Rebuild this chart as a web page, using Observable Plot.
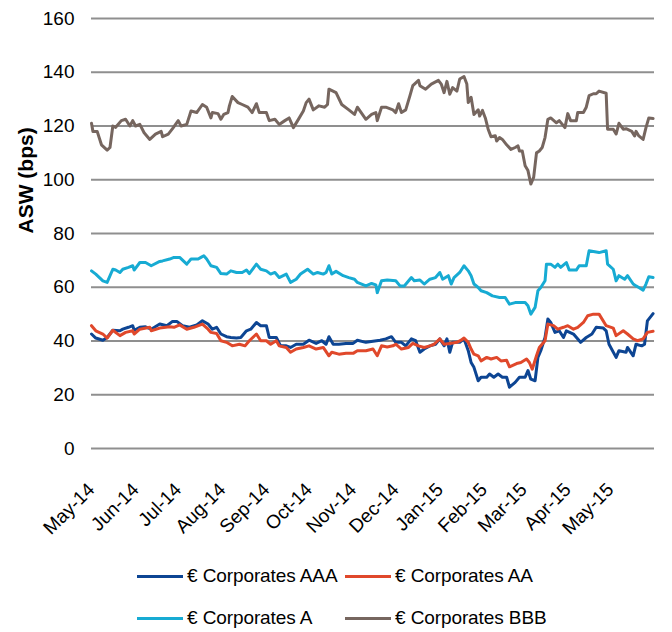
<!DOCTYPE html>
<html>
<head>
<meta charset="utf-8">
<script src="https://cdn.jsdelivr.net/npm/d3@7"></script>
<script src="https://cdn.jsdelivr.net/npm/@observablehq/plot@0.6"></script>
<style>
  html, body { margin: 0; padding: 0; background: #fff; overflow: hidden; }
  body { width: 672px; height: 632px; font-family: "Liberation Sans", Arial, sans-serif; }
  #legend { display: grid; grid-template-columns: 208px auto; padding-left: 137px; margin-top: 10px; }
  .item { height: 42px; display: flex; align-items: center; font-size: 19px; color: #000; letter-spacing: -0.1px; white-space: nowrap; }
  .sw { display: inline-block; width: 46px; height: 3px; margin-right: 4px; }
</style>
</head>
<body>
<div id="chart"></div>
<div id="legend"></div>
<script>
// ---- data ----
const seriesNames = ["€ Corporates AAA", "€ Corporates AA", "€ Corporates A", "€ Corporates BBB"];
const seriesColors = ["#0d4593", "#e0482b", "#17abd3", "#76665f"];
const yTicks = [0, 20, 40, 60, 80, 100, 120, 140, 160];
const monthTicks = ["2014-05-01","2014-06-01","2014-07-01","2014-08-01","2014-09-01","2014-10-01","2014-11-01","2014-12-01","2015-01-01","2015-02-01","2015-03-01","2015-04-01","2015-05-01"];
const xDomain = ["2014-05-01", "2015-06-01"];

const aaa = [["2014-05-01",42.6],["2014-05-04",41.1],["2014-05-09",40.3],["2014-05-12",41.3],["2014-05-16",44],["2014-05-21",43.8],["2014-05-23",44.4],["2014-05-27",45.1],["2014-05-30",45.7],["2014-05-31",44],["2014-06-04",45.1],["2014-06-08",45.3],["2014-06-12",44.4],["2014-06-18",46.3],["2014-06-23",45.7],["2014-06-27",47.3],["2014-06-30",47.3],["2014-07-04",45.7],["2014-07-09",45.1],["2014-07-14",46],["2014-07-18",47.5],["2014-07-22",46.3],["2014-07-25",44.4],["2014-07-28",45.1],["2014-07-31",42.6],["2014-08-04",41.6],["2014-08-07",41.3],["2014-08-11",41.1],["2014-08-14",41.3],["2014-08-18",43.8],["2014-08-21",44.4],["2014-08-25",46.9],["2014-08-28",45.7],["2014-09-01",45.7],["2014-09-03",41.3],["2014-09-08",41.3],["2014-09-11",38.2],["2014-09-15",38.2],["2014-09-18",37.6],["2014-09-22",38.8],["2014-09-27",38.8],["2014-10-01",40.3],["2014-10-06",39.1],["2014-10-10",40.1],["2014-10-13",38.8],["2014-10-15",41.6],["2014-10-18",38.8],["2014-10-22",38.8],["2014-10-27",39.1],["2014-11-01",39.1],["2014-11-04",40.3],["2014-11-10",39.5],["2014-11-15",39.9],["2014-11-20",40.3],["2014-11-24",40.8],["2014-11-28",41.6],["2014-12-01",39.5],["2014-12-05",39.5],["2014-12-08",38.2],["2014-12-12",40.8],["2014-12-15",40.1],["2014-12-18",35.8],["2014-12-21",37],["2014-12-25",38.2],["2014-12-29",38.8],["2015-01-01",40.8],["2015-01-04",38.2],["2015-01-06",40.8],["2015-01-08",35.8],["2015-01-10",39.5],["2015-01-15",39.5],["2015-01-18",40.8],["2015-01-21",36.4],["2015-01-23",32],["2015-01-25",30.2],["2015-01-28",25.2],["2015-01-30",26.5],["2015-02-03",26.5],["2015-02-05",27.7],["2015-02-08",26.5],["2015-02-11",27.7],["2015-02-14",26.5],["2015-02-17",26.5],["2015-02-19",22.8],["2015-02-23",24.6],["2015-02-26",26.5],["2015-03-02",26.5],["2015-03-04",29],["2015-03-06",25.8],["2015-03-09",25.2],["2015-03-11",33.9],["2015-03-13",36.4],["2015-03-16",41.3],["2015-03-18",48.2],["2015-03-20",46.9],["2015-03-23",43.2],["2015-03-26",43.8],["2015-03-29",41.3],["2015-03-31",43.8],["2015-04-05",42.6],["2015-04-10",39.5],["2015-04-14",41.3],["2015-04-18",42.6],["2015-04-21",45.1],["2015-04-26",44.8],["2015-04-28",43.8],["2015-04-30",38.8],["2015-05-05",33.9],["2015-05-07",36.4],["2015-05-12",35.8],["2015-05-13",37.6],["2015-05-17",34.5],["2015-05-19",38.8],["2015-05-23",38.2],["2015-05-25",38.8],["2015-05-27",47.5],["2015-05-31",50.2]];

const aa = [["2014-05-01",45.7],["2014-05-04",43.8],["2014-05-09",42.6],["2014-05-12",41.1],["2014-05-16",44],["2014-05-21",42],["2014-05-25",43.2],["2014-05-30",43.8],["2014-05-31",42.6],["2014-06-04",44.4],["2014-06-11",45.1],["2014-06-12",43.8],["2014-06-18",44.8],["2014-06-25",45.3],["2014-06-28",45.1],["2014-07-02",46],["2014-07-07",44.4],["2014-07-12",45.1],["2014-07-18",46.3],["2014-07-22",44.4],["2014-07-24",43.2],["2014-07-28",42.8],["2014-07-31",40.1],["2014-08-04",39.5],["2014-08-08",38.2],["2014-08-13",38.8],["2014-08-17",38.2],["2014-08-20",40.1],["2014-08-25",42.6],["2014-08-28",40.1],["2014-09-01",40.1],["2014-09-04",38.8],["2014-09-08",40.1],["2014-09-10",38.2],["2014-09-15",37.6],["2014-09-18",35.8],["2014-09-22",37],["2014-09-27",37.6],["2014-10-01",38.2],["2014-10-06",37],["2014-10-11",37.6],["2014-10-15",34.5],["2014-10-17",35.8],["2014-10-22",35.1],["2014-10-27",35.4],["2014-11-01",35.4],["2014-11-04",36.4],["2014-11-10",36.4],["2014-11-15",37],["2014-11-18",34.5],["2014-11-21",38.2],["2014-11-25",37.8],["2014-11-29",38.2],["2014-12-01",38.8],["2014-12-05",37],["2014-12-10",37.6],["2014-12-13",39.1],["2014-12-17",38.2],["2014-12-21",37.6],["2014-12-25",38.2],["2014-12-28",38.8],["2015-01-01",40.8],["2015-01-04",38.8],["2015-01-08",39.1],["2015-01-13",39.5],["2015-01-16",40.3],["2015-01-18",41.1],["2015-01-21",39.5],["2015-01-23",37],["2015-01-25",35.1],["2015-01-28",34.5],["2015-01-30",32.6],["2015-02-03",33.9],["2015-02-06",33.3],["2015-02-10",33.9],["2015-02-13",32.6],["2015-02-17",32.8],["2015-02-19",30.4],["2015-02-24",31.6],["2015-02-27",32],["2015-03-03",33.3],["2015-03-05",32],["2015-03-07",29.5],["2015-03-10",34.5],["2015-03-12",37.6],["2015-03-16",40.1],["2015-03-18",46.3],["2015-03-22",45.7],["2015-03-25",44.4],["2015-03-29",45.1],["2015-04-01",45.7],["2015-04-05",44.4],["2015-04-08",45.1],["2015-04-12",46.9],["2015-04-15",49.4],["2015-04-19",50],["2015-04-23",50],["2015-04-28",45.7],["2015-05-03",44.8],["2015-05-05",42],["2015-05-10",43.8],["2015-05-13",42.6],["2015-05-17",40.8],["2015-05-20",40.1],["2015-05-24",40.8],["2015-05-27",43.2],["2015-05-31",43.6]];

const a = [["2014-05-01",66.1],["2014-05-04",64.9],["2014-05-09",62.4],["2014-05-12",61.8],["2014-05-16",66.7],["2014-05-18",66.4],["2014-05-21",65.5],["2014-05-23",66.7],["2014-05-27",67.4],["2014-05-30",68],["2014-05-31",66.4],["2014-06-04",69.2],["2014-06-08",69.2],["2014-06-12",68],["2014-06-18",69.6],["2014-06-20",69.8],["2014-06-25",70.5],["2014-06-28",71.1],["2014-07-02",71.1],["2014-07-07",68.6],["2014-07-10",70.5],["2014-07-15",70.5],["2014-07-17",71.1],["2014-07-19",71.7],["2014-07-21",70.5],["2014-07-24",68],["2014-07-28",67.4],["2014-07-31",65.1],["2014-08-04",64.9],["2014-08-07",66.1],["2014-08-11",65.5],["2014-08-15",65.5],["2014-08-18",66.4],["2014-08-20",65.1],["2014-08-25",68.6],["2014-08-28",66.7],["2014-09-01",66.1],["2014-09-04",64.9],["2014-09-07",65.5],["2014-09-10",63.6],["2014-09-15",64.9],["2014-09-18",61.8],["2014-09-22",63],["2014-09-25",64.9],["2014-09-30",66.7],["2014-10-04",64.9],["2014-10-07",65.5],["2014-10-11",64.9],["2014-10-13",65.5],["2014-10-15",68],["2014-10-17",64.9],["2014-10-20",65.9],["2014-10-25",64.3],["2014-10-29",63.6],["2014-11-02",63],["2014-11-04",61.8],["2014-11-10",60.5],["2014-11-14",61.4],["2014-11-17",60.9],["2014-11-18",58],["2014-11-21",62.4],["2014-11-25",62.7],["2014-12-01",62.4],["2014-12-04",60.5],["2014-12-07",60.5],["2014-12-12",63.6],["2014-12-14",62.4],["2014-12-18",62.7],["2014-12-21",61.2],["2014-12-25",63],["2014-12-29",63.6],["2015-01-01",65.5],["2015-01-03",63],["2015-01-07",64.3],["2015-01-09",61.2],["2015-01-11",63.6],["2015-01-15",65.5],["2015-01-18",68],["2015-01-21",66.1],["2015-01-23",64.3],["2015-01-25",61.2],["2015-01-28",59.9],["2015-01-30",58.7],["2015-02-03",58],["2015-02-07",56.8],["2015-02-12",56.2],["2015-02-16",56.2],["2015-02-19",53.7],["2015-02-23",54.3],["2015-02-26",54.3],["2015-03-02",54.3],["2015-03-04",53.1],["2015-03-06",50],["2015-03-09",52.5],["2015-03-11",58.7],["2015-03-13",59.9],["2015-03-16",62.4],["2015-03-17",68.6],["2015-03-20",68.6],["2015-03-23",67.4],["2015-03-25",68.6],["2015-03-27",67.4],["2015-03-31",69.2],["2015-04-02",66.4],["2015-04-07",66.4],["2015-04-09",68],["2015-04-14",68],["2015-04-16",73.6],["2015-04-19",73.3],["2015-04-23",72.9],["2015-04-28",73.6],["2015-04-29",68.6],["2015-05-03",66.7],["2015-05-05",62.4],["2015-05-07",64.3],["2015-05-11",63],["2015-05-13",64.3],["2015-05-17",61.2],["2015-05-19",60.5],["2015-05-21",59.9],["2015-05-24",58.9],["2015-05-26",61.2],["2015-05-28",63.9],["2015-05-31",63.6]];

const bbb = [["2014-05-01",121],["2014-05-02",118],["2014-05-05",118],["2014-05-08",113],["2014-05-12",111],["2014-05-14",112],["2014-05-16",120],["2014-05-18",119.5],["2014-05-22",122],["2014-05-25",122.5],["2014-05-28",120],["2014-05-30",122],["2014-06-01",120],["2014-06-04",120.6],["2014-06-07",117.5],["2014-06-11",115],["2014-06-15",117],["2014-06-19",118],["2014-06-20",116],["2014-06-24",117],["2014-06-27",119],["2014-07-01",122],["2014-07-03",120],["2014-07-07",120.6],["2014-07-10",125.6],["2014-07-14",125],["2014-07-18",128],["2014-07-21",127],["2014-07-24",123],["2014-07-25",125],["2014-07-29",124.6],["2014-07-31",122.5],["2014-08-02",124.3],["2014-08-05",125],["2014-08-06",127.5],["2014-08-08",131],["2014-08-12",128.7],["2014-08-15",128],["2014-08-19",127],["2014-08-22",125],["2014-08-25",128.3],["2014-08-27",125],["2014-09-01",125],["2014-09-03",122],["2014-09-07",122.5],["2014-09-10",120.6],["2014-09-14",122],["2014-09-17",123],["2014-09-20",119.4],["2014-09-23",122],["2014-09-27",125.6],["2014-09-29",128.7],["2014-10-01",130],["2014-10-04",126],["2014-10-08",127.5],["2014-10-12",127],["2014-10-14",128],["2014-10-15",133.7],["2014-10-20",132.4],["2014-10-24",128],["2014-10-29",126],["2014-11-02",124.3],["2014-11-04",127],["2014-11-10",122.5],["2014-11-14",124.3],["2014-11-17",125],["2014-11-18",122],["2014-11-21",127],["2014-11-24",127],["2014-11-29",126],["2014-12-01",125],["2014-12-03",128.3],["2014-12-05",125],["2014-12-08",126],["2014-12-11",131.3],["2014-12-13",135],["2014-12-17",137],["2014-12-18",135],["2014-12-22",133.7],["2014-12-26",135.6],["2014-12-31",137],["2015-01-02",135.6],["2015-01-04",132.4],["2015-01-06",136.6],["2015-01-08",131.8],["2015-01-10",134.3],["2015-01-13",133],["2015-01-15",137.5],["2015-01-18",138.4],["2015-01-20",135.6],["2015-01-21",128.7],["2015-01-23",130.7],["2015-01-25",124.3],["2015-01-28",126],["2015-01-29",123.7],["2015-01-31",125.8],["2015-02-02",123],["2015-02-04",118.8],["2015-02-06",116],["2015-02-09",116.4],["2015-02-10",114.4],["2015-02-12",115.7],["2015-02-14",115],["2015-02-17",113],["2015-02-20",111.3],["2015-02-23",112],["2015-02-25",112.6],["2015-02-26",110.7],["2015-02-28",110.7],["2015-03-02",105.2],["2015-03-04",103.4],["2015-03-06",98.4],["2015-03-08",100.9],["2015-03-10",110],["2015-03-12",110.7],["2015-03-14",112],["2015-03-16",115.7],["2015-03-18",122.5],["2015-03-20",123],["2015-03-24",121.2],["2015-03-26",122],["2015-03-30",119.4],["2015-04-01",124.6],["2015-04-03",122],["2015-04-07",122],["2015-04-08",125],["2015-04-12",125],["2015-04-14",127],["2015-04-16",131.3],["2015-04-19",132],["2015-04-21",132],["2015-04-23",133],["2015-04-28",132.2],["2015-04-29",118.8],["2015-05-03",118.8],["2015-05-05",117],["2015-05-07",121],["2015-05-10",118.8],["2015-05-12",119],["2015-05-16",118],["2015-05-18",116.3],["2015-05-19",118],["2015-05-21",116.3],["2015-05-24",115],["2015-05-26",119.4],["2015-05-28",123],["2015-05-31",122.8]];

// ---- build table ----
const parse = d3.utcParse("%Y-%m-%d");
const seriesData = [aaa, aa, a, bbb];
const rows = [];
seriesData.forEach((arr, i) => arr.forEach(([d, v]) => rows.push({series: seriesNames[i], date: parse(d), value: v})));

const font = "'Liberation Sans', Arial, Helvetica, sans-serif";
const chart = Plot.plot({
  width: 672,
  height: 545,
  marginLeft: 91,
  marginRight: 18,
  marginTop: 18,
  marginBottom: 97,
  style: {fontFamily: font, fontSize: "19px", color: "#000", background: "#fff", overflow: "visible"},
  x: {type: "utc", domain: xDomain.map(parse)},
  y: {domain: [0, 160]},
  color: {domain: seriesNames, range: seriesColors},
  marks: [
    Plot.gridY(yTicks, {stroke: "#8f8f8f", strokeOpacity: 1, strokeWidth: 2}),
    Plot.axisY(yTicks, {tickSize: 0, tickPadding: 17, label: null, fontSize: 19}),
    Plot.axisX(monthTicks.map(parse), {tickFormat: d3.utcFormat("%b-%y"), tickRotate: -45, tickSize: 0, tickPadding: 38, label: null, fontSize: 19}),
    Plot.text(["ASW (bps)"], {text: d => d, frameAnchor: "left", dx: -65, rotate: -90, fontWeight: "bold", fontSize: 21, fill: "#000"}),
    Plot.line(rows, {x: "date", y: "value", z: "series", stroke: "series", strokeWidth: 3, strokeLinejoin: "round", strokeLinecap: "round"})
  ]
});
document.getElementById("chart").appendChild(chart);

// ---- legend ----
const legend = document.getElementById("legend");
[0, 1, 2, 3].forEach(i => {
  const item = document.createElement("div");
  item.className = "item";
  const sw = document.createElement("span");
  sw.className = "sw";
  sw.style.background = seriesColors[i];
  item.appendChild(sw);
  item.appendChild(document.createTextNode(seriesNames[i]));
  legend.appendChild(item);
});
</script>
</body>
</html>
